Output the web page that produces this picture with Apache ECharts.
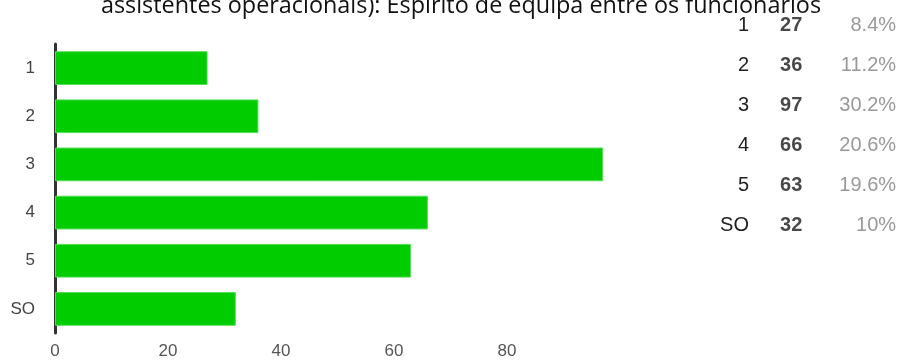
<!DOCTYPE html>
<html><head><meta charset="utf-8">
<script src="https://cdn.jsdelivr.net/npm/echarts@6/dist/echarts.min.js"></script>
<style>html,body{margin:0;padding:0;background:#fff}#c{width:899px;height:360px}</style>
</head><body><div id="c"></div>
<script>
const titleText = 'assistentes operacionais): Espírito de equipa entre os funcionários';
const categories = ['1', '2', '3', '4', '5', 'SO'];
const counts = [27, 36, 97, 66, 63, 32];
const percents = ['8.4%', '11.2%', '30.2%', '20.6%', '19.6%', '10%'];
const xTicks = ['0', '20', '40', '60', '80'];

const chart = echarts.init(document.getElementById('c'), null, {renderer: 'canvas'});
const font = "'Liberation Sans', Arial, sans-serif";
chart.setOption({
  animation: false,
  backgroundColor: '#fff',
  title: {
    text: titleText, left: 456, textAlign: 'center', top: -10,
    textStyle: {fontFamily: "'Open Sans', 'Liberation Sans', sans-serif", fontSize: 23.4, fontWeight: 'normal', color: '#111'}
  },
  grid: [
    {left: 55, right: 279, top: 44, bottom: 25},
    {left: 778, right: 2, top: 5, height: 240}
  ],
  xAxis: [
    {gridIndex: 0, type: 'value', min: 0, max: 100, interval: 20,
     axisLine: {show: false}, axisTick: {show: false}, splitLine: {show: false},
     axisLabel: {margin: 10, color: '#555', fontSize: 17, fontFamily: font,
       formatter: v => xTicks.indexOf(String(v)) >= 0 ? String(v) : ''}},
    {gridIndex: 1, type: 'value', min: 0, max: 1, show: false}
  ],
  yAxis: [
    {gridIndex: 0, type: 'category', data: categories, inverse: true,
     axisLine: {show: true, lineStyle: {color: '#333', width: 3}}, axisTick: {show: false},
     axisLabel: {margin: 20, color: '#444', fontSize: 17, fontFamily: font}},
    {gridIndex: 1, type: 'category', data: categories, inverse: true,
     axisLine: {show: false}, axisTick: {show: false}, splitLine: {show: false},
     axisLabel: {margin: 29, color: '#222', fontSize: 20, fontFamily: font}}
  ],
  series: [
    {type: 'bar', xAxisIndex: 0, yAxisIndex: 0, data: counts, barCategoryGap: '30%',
     itemStyle: {color: '#00cc00', borderColor: '#55dd55', borderWidth: 1}},
    {type: 'scatter', xAxisIndex: 1, yAxisIndex: 1, symbolSize: 0.1,
     data: categories.map((c, i) => [0, c]),
     label: {show: true, position: 'right', distance: 2,
       formatter: p => '{c|' + counts[p.dataIndex] + '}{p|' + percents[p.dataIndex] + '}',
       rich: {
         c: {width: 46, align: 'left', fontWeight: 'bold', color: '#1a1a1a', fontSize: 20, fontFamily: font},
         p: {width: 70, align: 'right', color: '#808080', fontSize: 20, fontFamily: font}
       }}}
  ]
});
</script></body></html>
